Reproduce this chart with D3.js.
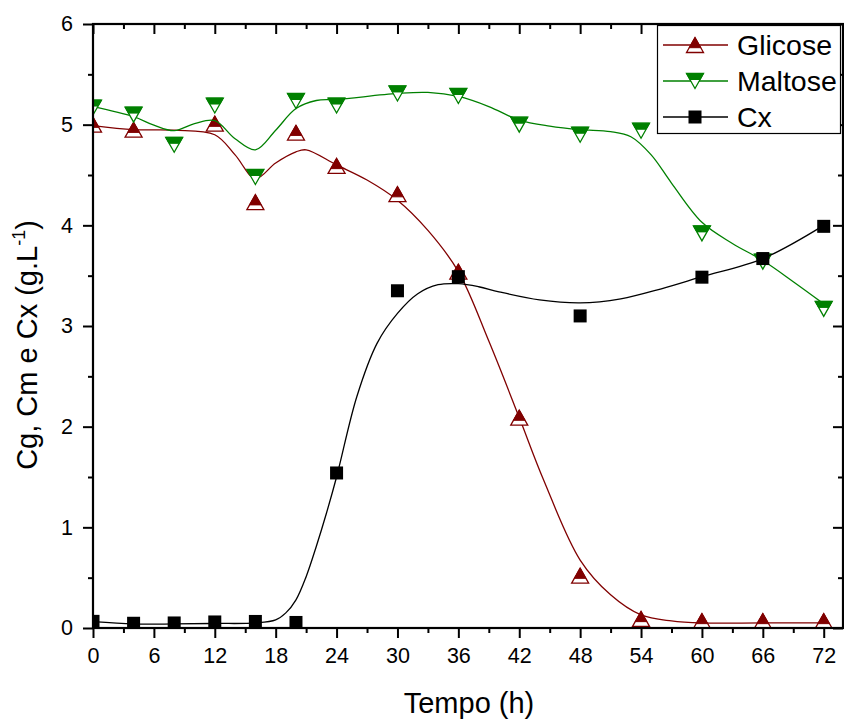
<!DOCTYPE html>
<html>
<head>
<meta charset="utf-8">
<script src="https://cdn.jsdelivr.net/npm/d3@7"></script>
<style>
  body { margin: 0; background: #fff; }
  text { font-family: "Liberation Sans", Arial, sans-serif; }
</style>
</head>
<body>
<div id="chart"></div>
<script>
var tempo = [0, 4, 8, 12, 16, 20, 24, 30, 36, 42, 48, 54, 60, 66, 72];

// glicose has no point at 8 h
var glicoseT = [0, 4, 12, 16, 20, 24, 30, 36, 42, 48, 54, 60, 66, 72];
var glicose = [5.0, 4.95, 5.01, 4.23, 4.92, 4.59, 4.31, 3.54, 2.09, 0.52, 0.09, 0.07, 0.07, 0.07];

var maltose = [5.17, 5.10, 4.80, 5.19, 4.48, 5.235, 5.19, 5.31, 5.285, 5.0, 4.90, 4.94, 3.92, 3.64, 3.17];

var cxT = [0, 4, 8, 12, 16, 20, 24, 30, 36, 48, 60, 66, 72];
var cx = [0.066, 0.047, 0.05, 0.06, 0.065, 0.055, 1.54, 3.35, 3.49, 3.10, 3.485, 3.67, 3.99];

// smoothed curves, values
var glicoseFitT = [0, 4, 8, 12, 14, 16, 18, 20, 21, 24, 27, 30, 33, 36, 39, 42, 44.4, 48, 51, 54, 57, 60, 66, 72];
var glicoseFit = [4.99, 4.95, 4.945, 4.90, 4.70, 4.465, 4.62, 4.73, 4.75, 4.60, 4.45, 4.25, 3.95, 3.54, 2.85, 2.09, 1.47, 0.675, 0.33, 0.13, 0.07, 0.05, 0.05, 0.05];

var maltoseFitT = [0, 4, 6, 8, 10, 12, 14, 16, 18, 20, 22, 24, 30, 33, 36, 39, 42, 45, 48, 51, 53, 55, 57, 60, 63, 66, 69, 72];
var maltoseFit = [5.18, 5.08, 4.995, 4.94, 5.01, 5.04, 4.86, 4.75, 4.945, 5.16, 5.24, 5.25, 5.31, 5.32, 5.28, 5.18, 5.045, 4.985, 4.95, 4.93, 4.88, 4.70, 4.42, 4.03, 3.82, 3.65, 3.44, 3.22];

var cxFitT = [0, 4, 8, 12, 16, 18, 19, 20, 21, 22, 23, 24, 26, 28, 30, 32, 34, 36, 38, 40, 44, 48, 52, 56, 60, 66, 72];
var cxFit = [0.063, 0.04, 0.04, 0.045, 0.05, 0.08, 0.15, 0.28, 0.51, 0.81, 1.14, 1.5, 2.30, 2.83, 3.125, 3.32, 3.41, 3.42, 3.39, 3.34, 3.26, 3.23, 3.27, 3.37, 3.49, 3.67, 4.0];

var xTicks = [0, 6, 12, 18, 24, 30, 36, 42, 48, 54, 60, 66, 72];
var yTicks = [0, 1, 2, 3, 4, 5, 6];

var wine = '#800000';
var green = '#008000';

// ============================================
// svg + plot area
var svgWidth = 844;
var svgHeight = 720;

var margin = { top: 24, right: 1, bottom: 92, left: 93 };
var width = svgWidth - margin.left - margin.right;
var height = svgHeight - margin.top - margin.bottom;

var svg = d3.select('#chart')
    .append('svg')
    .attr('width', svgWidth)
    .attr('height', svgHeight);

var chartGroup = svg.append('g')
    .attr('transform', `translate(${margin.left}, ${margin.top})`);

var xScale = d3.scaleLinear().domain([0, 73.9]).range([0, width]);
var yScale = d3.scaleLinear().domain([0, 6]).range([height, 0]);

svg.append('defs').append('clipPath')
    .attr('id', 'plotClip')
    .append('rect')
    .attr('width', width)
    .attr('height', height);

// ============================================
// curves + markers (under the frame)
var plot = chartGroup.append('g').attr('clip-path', 'url(#plotClip)');

var line = d3.line()
    .x(d => xScale(d[0]))
    .y(d => yScale(d[1]))
    .curve(d3.curveCatmullRom.alpha(0.5));

function drawCurve(ts, vs, color) {
    plot.append('path')
        .datum(d3.zip(ts, vs))
        .attr('d', line)
        .attr('fill', 'none')
        .attr('stroke', color)
        .attr('stroke-width', 1.3);
}

// half filled triangles like the origin markers
function upTriangle(g, color) {
    g.append('path')
        .attr('d', 'M0,-7.5L8.5,7.5L-8.5,7.5Z')
        .attr('fill', '#fff')
        .attr('stroke', color)
        .attr('stroke-width', 1.3);
    g.append('path')
        .attr('d', 'M0,-7.5L5.8,2.7L-5.8,2.7Z')
        .attr('fill', color)
        .attr('stroke', color)
        .attr('stroke-width', 1);
}

function downTriangle(g, color) {
    g.append('path')
        .attr('d', 'M-8.5,-7.5L8.5,-7.5L0,7.5Z')
        .attr('fill', '#fff')
        .attr('stroke', color)
        .attr('stroke-width', 1.3);
    g.append('path')
        .attr('d', 'M-8.5,-7.5L8.5,-7.5L5.1,-1.5L-5.1,-1.5Z')
        .attr('fill', color)
        .attr('stroke', color)
        .attr('stroke-width', 1);
}

function square(g, color) {
    g.append('rect')
        .attr('x', -6.5).attr('y', -6.5)
        .attr('width', 13).attr('height', 13)
        .attr('fill', color);
}

function drawMarkers(ts, vs, shape, color) {
    plot.selectAll(null)
        .data(d3.zip(ts, vs))
        .enter()
        .append('g')
        .attr('transform', d => `translate(${xScale(d[0])}, ${yScale(d[1])})`)
        .each(function () { shape(d3.select(this), color); });
}

drawCurve(glicoseFitT, glicoseFit, wine);
drawMarkers(glicoseT, glicose, upTriangle, wine);

drawCurve(maltoseFitT, maltoseFit, green);
drawMarkers(tempo, maltose, downTriangle, green);

drawCurve(cxFitT, cxFit, '#000');
drawMarkers(cxT, cx, square, '#000');

// ============================================
// axes: labelled bottom/left with outward ticks, mirrored top/right inward
var minorX = d3.range(3, 73, 6);
var minorY = d3.range(0.5, 6, 1);

function styleAxis(g) {
    g.select('.domain').remove();
    g.selectAll('line').attr('stroke', '#000').attr('stroke-width', 2);
    g.selectAll('text')
        .attr('font-size', '21.5px')
        .attr('fill', '#000')
        .style('font-family', '"Liberation Sans", Arial, sans-serif');
}

// bottom
chartGroup.append('g')
    .attr('transform', `translate(0, ${height})`)
    .call(d3.axisBottom(xScale).tickValues(xTicks).tickSize(10).tickPadding(10))
    .call(styleAxis);
chartGroup.append('g')
    .attr('transform', `translate(0, ${height})`)
    .call(d3.axisBottom(xScale).tickValues(minorX).tickSize(5).tickFormat(''))
    .call(styleAxis);

// left
chartGroup.append('g')
    .call(d3.axisLeft(yScale).tickValues(yTicks).tickSize(10).tickPadding(10).tickFormat(d3.format('d')))
    .call(styleAxis);
chartGroup.append('g')
    .call(d3.axisLeft(yScale).tickValues(minorY).tickSize(5).tickFormat(''))
    .call(styleAxis);

// top (inward)
chartGroup.append('g')
    .call(d3.axisTop(xScale).tickValues(xTicks).tickSize(-10).tickFormat(''))
    .call(styleAxis);
chartGroup.append('g')
    .call(d3.axisTop(xScale).tickValues(minorX).tickSize(-5).tickFormat(''))
    .call(styleAxis);

// right (inward)
chartGroup.append('g')
    .attr('transform', `translate(${width}, 0)`)
    .call(d3.axisRight(yScale).tickValues(yTicks).tickSize(-10).tickFormat(''))
    .call(styleAxis);
chartGroup.append('g')
    .attr('transform', `translate(${width}, 0)`)
    .call(d3.axisRight(yScale).tickValues(minorY).tickSize(-5).tickFormat(''))
    .call(styleAxis);

// frame
chartGroup.append('rect')
    .attr('width', width)
    .attr('height', height)
    .attr('fill', 'none')
    .attr('stroke', '#000')
    .attr('stroke-width', 2.2);

// ============================================
// axis titles
svg.append('text')
    .attr('x', 469)
    .attr('y', 713)
    .attr('text-anchor', 'middle')
    .attr('font-size', '29px')
    .text('Tempo (h)');

var yTitle = svg.append('text')
    .attr('transform', 'translate(37, 345) rotate(-90)')
    .attr('text-anchor', 'middle')
    .attr('font-size', '29px');
yTitle.append('tspan').text('Cg, Cm e Cx (g.L');
yTitle.append('tspan').attr('font-size', '18px').attr('dy', -12).text('-1');
yTitle.append('tspan').attr('dy', 12).text(')');

// ============================================
// legend
var legendNames = ['Glicose', 'Maltose', 'Cx'];
var legendColors = [wine, green, '#000'];
var legendShapes = [upTriangle, downTriangle, square];

var legend = svg.append('g');
legend.append('rect')
    .attr('x', 657.5).attr('y', 25.5)
    .attr('width', 183).attr('height', 108)
    .attr('fill', '#fff')
    .attr('stroke', '#000')
    .attr('stroke-width', 1.2);

legendNames.forEach((name, i) => {
    var yy = 45 + i * 36;
    legend.append('line')
        .attr('x1', 663).attr('x2', 728)
        .attr('y1', yy).attr('y2', yy)
        .attr('stroke', legendColors[i])
        .attr('stroke-width', 1.3);
    var m = legend.append('g').attr('transform', `translate(695, ${yy})`);
    legendShapes[i](m, legendColors[i]);
    legend.append('text')
        .attr('x', 737)
        .attr('y', yy + 10)
        .attr('font-size', '28.5px')
        .text(name);
});
</script>
</body>
</html>
